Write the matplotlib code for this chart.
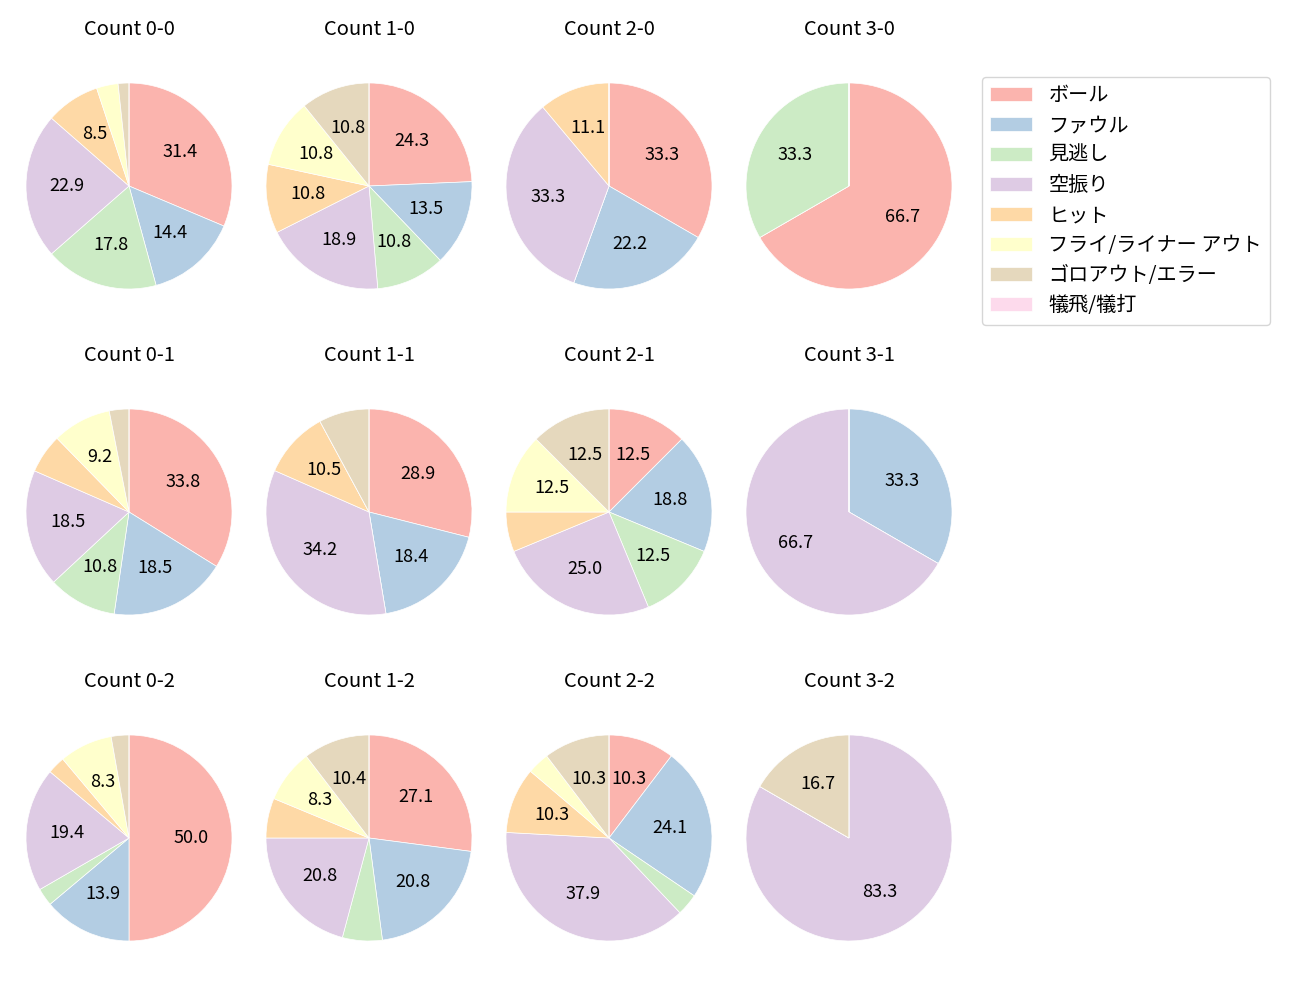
import numpy as np
import matplotlib.pyplot as plt

plt.rcParams['font.family'] = ['Noto Sans CJK JP', 'DejaVu Sans']

categories = ['ボール', 'ファウル', '見逃し', '空振り', 'ヒット',
              'フライ/ライナー アウト', 'ゴロアウト/エラー', '犠飛/犠打']
colors = ['#fbb4ae', '#b3cde3', '#ccebc5', '#decbe4', '#fed9a6',
          '#ffffcc', '#e5d8bd', '#fddaec']

# pitch counts per outcome (order matches categories)
counts = {
    '0-0': [37, 17, 21, 27, 10, 4, 2, 0],
    '1-0': [9, 5, 4, 7, 4, 4, 4, 0],
    '2-0': [3, 2, 0, 3, 1, 0, 0, 0],
    '3-0': [2, 0, 1, 0, 0, 0, 0, 0],
    '0-1': [22, 12, 7, 12, 4, 6, 2, 0],
    '1-1': [11, 7, 0, 13, 4, 0, 3, 0],
    '2-1': [2, 3, 2, 4, 1, 2, 2, 0],
    '3-1': [0, 1, 0, 2, 0, 0, 0, 0],
    '0-2': [18, 5, 1, 7, 1, 3, 1, 0],
    '1-2': [13, 10, 3, 10, 3, 4, 5, 0],
    '2-2': [3, 7, 1, 11, 3, 1, 3, 0],
    '3-2': [0, 0, 0, 5, 0, 0, 1, 0],
}
balls = [0, 1, 2, 3]
strikes = [0, 1, 2]

W, H = 1300, 1000
fig = plt.figure(figsize=(13, 10), dpi=100)

box = 240      # axes box size in px
lim = 1.165    # data limits so radius ~103px


def autopct(p):
    return f'{p:.1f}' if p > 8 else ''


handles = None
for s in strikes:
    for b in balls:
        cx = 129 + 240 * b
        cy = 186 + 326 * s
        ax = fig.add_axes([(cx - box / 2) / W, 1 - (cy + box / 2) / H, box / W, box / H])
        vals = counts[f'{b}-{s}']
        wedges, _, _ = ax.pie(vals, colors=colors, startangle=90, counterclock=False,
                              autopct=autopct, pctdistance=0.6,
                              wedgeprops=dict(edgecolor='white', linewidth=0.5),
                              textprops=dict(fontsize=13))
        ax.set_xlim(-lim, lim)
        ax.set_ylim(-lim, lim)
        ax.set_title(f'Count {b}-{s}', fontsize=14.5, pad=22)
        if handles is None:
            handles = wedges

fig.legend(handles, categories, loc='upper left', bbox_to_anchor=(982 / W, 1 - 77 / H),
           borderaxespad=0, fontsize=14.5, handlelength=2.1, handleheight=0.7,
           labelspacing=0.45, borderpad=0.4, handletextpad=0.8)

fig.savefig('out.png')
